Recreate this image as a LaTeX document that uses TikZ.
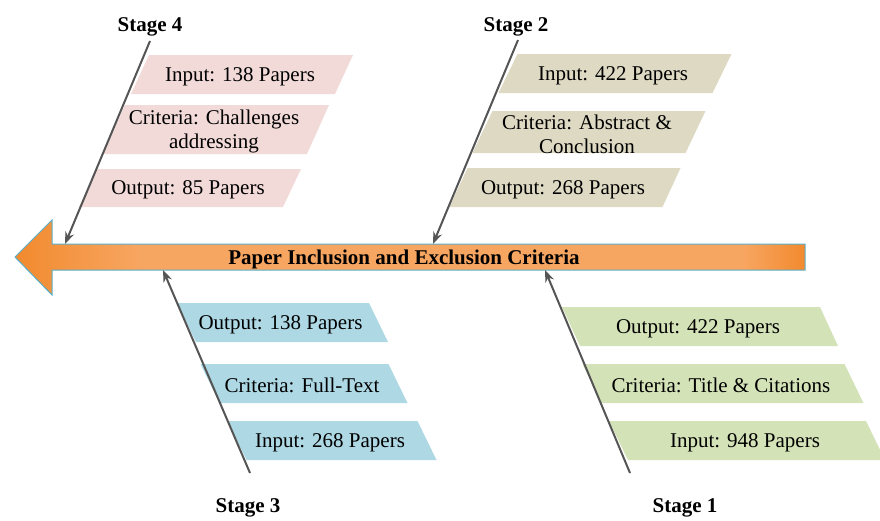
\documentclass[tikz,border=0pt]{standalone}
\usepackage{fontspec}
\setmainfont{Liberation Serif}
\usetikzlibrary{arrows.meta}
\definecolor{pinkf}{HTML}{F2DAD9}
\definecolor{beigef}{HTML}{DDD9C3}
\definecolor{bluef}{HTML}{ADD8E4}
\definecolor{greenf}{HTML}{D4E2B8}
\definecolor{oDark}{HTML}{F28A2E}
\definecolor{oLight}{HTML}{F7A662}
\definecolor{rimblue}{HTML}{5AAFC8}
\definecolor{linegray}{HTML}{555555}
\pgfdeclarehorizontalshading{orangebar}{100bp}{color(0bp)=(oDark); color(25bp)=(oDark); color(33bp)=(oLight); color(71bp)=(oLight); color(75bp)=(oDark); color(100bp)=(oDark)}
% #1 name, #2 cx, #3 cy, #4 w, #5 h, #6 top shift, #7 fill, #8 text
\newcommand\pbox[8]{%
  \fill[#7] ({#2-#4/2+(#6)}, {#3-#5/2}) -- ({#2+#4/2+(#6)}, {#3-#5/2})
     -- ({#2+#4/2-(#6)}, {#3+#5/2}) -- ({#2-#4/2-(#6)}, {#3+#5/2}) -- cycle;
  \node[txt] (#1) at ({#2-2}, #3) {#8};}
\begin{document}
\begin{tikzpicture}[x=1pt,y=-1pt,
  txt/.style={font=\fontsize{21}{24}\selectfont, align=center, inner sep=0pt, yshift=-2pt},
  stagelbl/.style={font=\fontsize{21}{24}\selectfont\bfseries, inner sep=0pt, yshift=-2pt},
  conn/.style={draw=linegray, line width=2pt, -{Stealth[length=12pt,width=9pt]}},
  bigarrow/.style={shade, shading=orangebar, draw=rimblue, line width=1pt}]
\useasboundingbox (0,0) rectangle (880,520);

% boxes
\pbox{p4in}{242}{74.5}{204}{39}{9}{pinkf}{Input: 138 Papers}
\pbox{p4cr}{216}{129.5}{204}{49}{11}{pinkf}{Criteria: Challenges\\addressing}
\pbox{p4out}{190}{188}{204}{38}{9}{pinkf}{Output: 85 Papers}

\pbox{p2in}{615}{73.5}{214}{39}{9.5}{beigef}{Input: 422 Papers}
\pbox{p2cr}{589}{132}{213}{42}{10}{beigef}{Criteria: Abstract \&\\Conclusion}
\pbox{p2out}{565}{187.5}{213}{39}{9}{beigef}{Output: 268 Papers}

\pbox{p3out}{282.5}{322.5}{192}{39}{-9.5}{bluef}{Output: 138 Papers}
\pbox{p3cr}{304}{383.5}{188}{39}{-9.5}{bluef}{Criteria: Full-Text}
\pbox{p3in}{332}{440.5}{190}{39}{-9.5}{bluef}{Input: 268 Papers}

\pbox{p1out}{700}{326.5}{258}{39}{-9}{greenf}{Output: 422 Papers}
\pbox{p1cr}{723}{383.5}{262}{39}{-9.5}{greenf}{Criteria: Title \& Citations}
\pbox{p1in}{747}{440.5}{257}{39}{-9.5}{greenf}{Input: 948 Papers}

% main arrow
\path[bigarrow] (15,257) -- (52,220) -- (52,244) -- (805,244) -- (805,270)
   -- (52,270) -- (52,295) -- cycle;
\node[stagelbl] (title) at (404,257) {Paper Inclusion and Exclusion Criteria};

% stage labels
\node[stagelbl] (s4) at (150,25) {Stage 4};
\node[stagelbl] (s2) at (516,25) {Stage 2};
\node[stagelbl] (s3) at (248,506) {Stage 3};
\node[stagelbl] (s1) at (685,506) {Stage 1};

% connector ends
\coordinate (s4a) at (150,41);
\coordinate (s4b) at (65,244);
\coordinate (s2a) at (518,40);
\coordinate (s2b) at (433,244);
\coordinate (s3a) at (250,473);
\coordinate (s3b) at (163,270);
\coordinate (s1a) at (630,473);
\coordinate (s1b) at (545,270);

\draw[conn] (s4a) -- (s4b);
\draw[conn] (s2a) -- (s2b);
\draw[conn] (s3a) -- (s3b);
\draw[conn] (s1a) -- (s1b);
\end{tikzpicture}
\end{document}
